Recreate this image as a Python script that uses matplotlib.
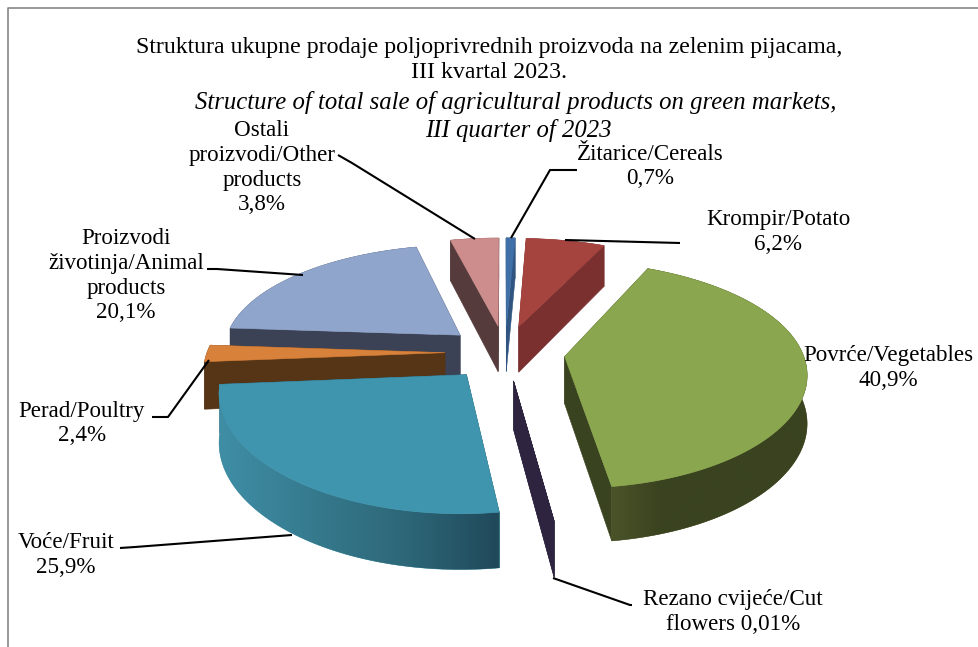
import numpy as np
import matplotlib
matplotlib.use("Agg")
import matplotlib.pyplot as plt
from matplotlib.colors import to_rgb
from matplotlib.patches import Polygon

# slice data, clockwise from 12 o'clock
names = ["Žitarice/Cereals", "Krompir/Potato", "Povrće/Vegetables", "Rezano cvijeće/Cut flowers",
         "Voće/Fruit", "Perad/Poultry", "Proizvodi životinja/Animal products", "Ostali proizvodi/Other products"]
values = [0.7, 6.2, 40.9, 0.01, 25.9, 2.4, 20.1, 3.8]
top_colors = ["#3f71a8", "#a5433f", "#8aa64e", "#2e2440", "#3f95ae", "#d8813a", "#8fa5cc", "#cd8d8c"]
side_colors = ["#2f5580", "#7a302f", "#3a431f", "#2e2440", "#1f4c5c", "#563416", "#3b4255", "#563b3c"]
# outer wall colours, left to right
rim_colors = [["#2f5580"], ["#7a302f"], ["#4a5328", "#3a431f", "#3a431f", "#3a431f", "#3a431f"], ["#2e2440"],
              ["#3f8ea6", "#367a8e", "#2d6778", "#20495a"], ["#563416"], ["#3b4255"], ["#563b3c"]]

label_text = [["Žitarice/Cereals", "0,7%"], ["Krompir/Potato", "6,2%"], ["Povrće/Vegetables", "40,9%"],
              ["Rezano cvijeće/Cut", "flowers 0,01%"], ["Voće/Fruit", "25,9%"], ["Perad/Poultry", "2,4%"],
              ["Proizvodi", "životinja/Animal", "products", "20,1%"], ["Ostali", "proizvodi/Other", "products", "3,8%"]]
label_xy = [(650, 152), (778, 218), (888, 354), (733, 598), (66, 541), (82, 409), (126, 237), (262, 129)]
leaders = [[(511, 238), (550, 170), (577, 170)],
           [(565, 240), (680, 243)],
           [(553, 578), (630, 605), (632, 605)],
           [(120, 548), (135, 547), (292, 535)],
           [(209, 360), (168, 417), (152, 417)],
           [(207, 269), (217, 269), (303, 275)],
           [(338, 155), (352, 163), (475, 239)]]
title_lines = [("Struktura ukupne prodaje poljoprivrednih proizvoda na zelenim pijacama,", "normal", 489, 47, 17.2),
               ("III kvartal 2023.", "normal", 489, 73, 17.2),
               ("Structure of total sale of agricultural products on green markets,", "italic", 516, 103, 17.8),
               ("III quarter of 2023", "italic", 518, 131, 17.8)]

# fake 3d camera
CX, CY = 505, 352.5
RADIUS, EXPLODE, HEIGHT = 238, 60, 47
TILT, CAM_X, CAM_Y = 0.46, 1800, 1520


def project(x, y, z=0):
    s = CAM_X / (CAM_X + y)
    return CX + x * s, CY - TILT * y * CAM_Y / (CAM_Y + y) - z * s


fig = plt.figure(figsize=(9.79, 6.47), dpi=100)
ax = fig.add_axes([0, 0, 1, 1])
plt.rcParams["font.family"] = ["Liberation Serif", "DejaVu Serif"]

ax.plot([8, 8, 979], [647, 8, 8], color="#868686", lw=1.2, zorder=1)

vals = np.array(values)
edges = np.concatenate([[0], np.cumsum(vals)]) / vals.sum() * 2 * np.pi
mids = (edges[:-1] + edges[1:]) / 2

# back slices first
z = 2
for i in np.argsort(-np.cos(mids)):
    ox, oy = EXPLODE * np.sin(mids[i]), EXPLODE * np.cos(mids[i])
    th = np.linspace(edges[i], edges[i + 1], max(3, int((edges[i + 1] - edges[i]) * 60)))
    rx = ox + RADIUS * np.sin(th)
    ry = oy + RADIUS * np.cos(th)

    # radial walls, the one nearer the camera last
    for k in sorted([0, -1], key=lambda k: -ry[k]):
        quad = [project(ox, oy), project(rx[k], ry[k]), project(rx[k], ry[k], -HEIGHT), project(ox, oy, -HEIGHT)]
        ax.add_patch(Polygon(quad, closed=True, fc=side_colors[i], ec=side_colors[i], lw=0.4, zorder=z))
        z += 1

    # outer wall, gradient runs left to right over its width
    wall = [project(a, b) for a, b in zip(rx, ry)] + [project(a, b, -HEIGHT) for a, b in zip(rx[::-1], ry[::-1])]
    wall_poly = Polygon(wall, closed=True, fc=rim_colors[i][0], ec=rim_colors[i][0], lw=0.3, zorder=z)
    ax.add_patch(wall_poly)
    z += 1
    if len(rim_colors[i]) > 1:
        xs = np.array(wall)[:, 0]
        ys = np.array(wall)[:, 1]
        stops = np.array([to_rgb(c) for c in rim_colors[i]])
        pos = np.linspace(0, 1, len(stops))
        t = np.linspace(0, 1, 256)
        grad = np.stack([np.interp(t, pos, stops[:, c]) for c in range(3)], axis=-1)[None, :, :]
        im = ax.imshow(grad, extent=(xs.min(), xs.max(), ys.max(), ys.min()), aspect="auto",
                       interpolation="bilinear", zorder=z)
        im.set_clip_path(wall_poly)
        z += 1

    # top face
    top = [project(ox, oy)] + [project(a, b) for a, b in zip(rx, ry)]
    ax.add_patch(Polygon(top, closed=True, fc=top_colors[i], ec=top_colors[i], lw=0.4, zorder=z))
    z += 1

ax.set_xlim(0, 979)
ax.set_ylim(647, 0)
ax.axis("off")

for pts in leaders:
    xs, ys = zip(*pts)
    ax.plot(xs, ys, color="black", lw=1.5, solid_capstyle="butt", zorder=z)

for txt, style, x, y, size in title_lines:
    ax.text(x, y, txt, ha="center", va="center", fontsize=size, style=style, color="black", zorder=z)

for lines, (x, y) in zip(label_text, label_xy):
    for n, line in enumerate(lines):
        ax.text(x, y + n * 24.6 + 2, line, ha="center", va="center", fontsize=16.6, color="black", zorder=z)

fig.savefig("out.png", dpi=100)
